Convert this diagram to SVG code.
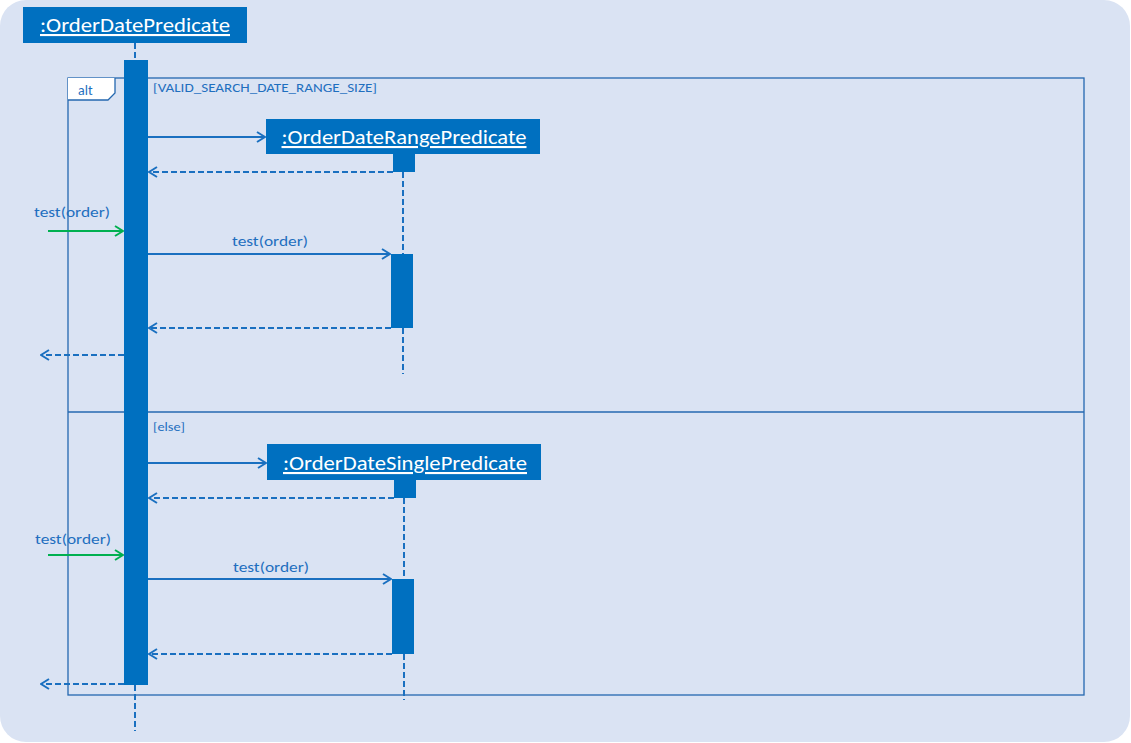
<svg xmlns="http://www.w3.org/2000/svg" width="1131" height="743" viewBox="0 0 1131 743">
<defs>
<style>
.bg{fill:#dae3f3}
.obj{fill:#0070c0}
.objt{fill:#ffffff;font-family:Carlito,"Open Sans","Liberation Sans",sans-serif;font-size:21px;text-decoration:underline}
.lbl{fill:#1f6fbf;font-family:Carlito,"Open Sans","Liberation Sans",sans-serif;font-size:15px}
.grd{fill:#1f6fbf;font-family:Carlito,"Open Sans","Liberation Sans",sans-serif;font-size:13px}
.msg{stroke:#1a70c0;stroke-width:2;fill:none}
.ret{stroke:#1a70c0;stroke-width:2;fill:none;stroke-dasharray:6 3}
.life{stroke:#1a70c0;stroke-width:2;fill:none;stroke-dasharray:6 3}
.ext{stroke:#00b050;stroke-width:2;fill:none}
.frame{stroke:#2468b0;stroke-width:1.3;fill:none}
</style>
<marker id="ah" viewBox="0 0 10 12" refX="9" refY="6" markerWidth="10" markerHeight="12" markerUnits="userSpaceOnUse" orient="auto">
<path d="M1,1 L9,6 L1,11" fill="none" stroke="#1a70c0" stroke-width="2"/>
</marker>
<marker id="ahg" viewBox="0 0 10 12" refX="9" refY="6" markerWidth="10" markerHeight="12" markerUnits="userSpaceOnUse" orient="auto">
<path d="M1,1 L9,6 L1,11" fill="none" stroke="#00b050" stroke-width="2"/>
</marker>
</defs>
<rect x="0" y="0" width="1131" height="743" fill="#ffffff"/>
<rect class="bg" x="0" y="0" width="1130" height="742" rx="26" ry="26"/>

<g id="frame-alt">
<rect class="frame" x="68" y="78" width="1016" height="617"/>
<path d="M68,78 L115,78 L115,93 L108,100 L68,100 Z" fill="#ffffff" stroke="none"/>
<path class="frame" d="M68,100 L108,100 L115,93 L115,78"/>
<text class="grd" x="78" y="95" style="font-size:14px">alt</text>
<line class="frame" x1="68" y1="412" x2="1084" y2="412"/>
<text class="grd" x="153" y="92" textLength="224" lengthAdjust="spacingAndGlyphs">[VALID_SEARCH_DATE_RANGE_SIZE]</text>
<text class="grd" x="153" y="431" textLength="32" lengthAdjust="spacingAndGlyphs">[else]</text>
</g>

<g id="lifelines">
<line class="life" x1="135" y1="43" x2="135" y2="60"/>
<line class="life" x1="135" y1="685" x2="135" y2="731"/>
<line class="life" x1="403" y1="172" x2="403" y2="254"/>
<line class="life" x1="403" y1="328" x2="403" y2="374"/>
<line class="life" x1="404" y1="498" x2="404" y2="579"/>
<line class="life" x1="404" y1="654" x2="404" y2="700"/>
</g>

<g id="node-orderDatePredicate">
<rect class="obj" x="23" y="7" width="224" height="36"/>
<text class="objt" x="135" y="32" text-anchor="middle" textLength="190" lengthAdjust="spacingAndGlyphs">:OrderDatePredicate</text>
<rect class="obj" x="124" y="60" width="24" height="625"/>
</g>

<g id="node-orderDateRangePredicate">
<rect class="obj" x="266" y="119" width="274" height="35"/>
<text class="objt" x="404" y="144" text-anchor="middle" textLength="245" lengthAdjust="spacingAndGlyphs">:OrderDateRangePredicate</text>
<rect class="obj" x="393" y="154" width="22" height="18"/>
<rect class="obj" x="391" y="254" width="22" height="74"/>
</g>

<g id="node-orderDateSinglePredicate">
<rect class="obj" x="267" y="444" width="274" height="36"/>
<text class="objt" x="405" y="470" text-anchor="middle" textLength="244" lengthAdjust="spacingAndGlyphs">:OrderDateSinglePredicate</text>
<rect class="obj" x="394" y="480" width="22" height="18"/>
<rect class="obj" x="392" y="579" width="22" height="75"/>
</g>

<g id="connectors">
<line class="msg" x1="148" y1="137" x2="265" y2="137" marker-end="url(#ah)"/>
<line class="ret" x1="393" y1="172" x2="149" y2="172" marker-end="url(#ah)"/>
<line class="ext" x1="48" y1="231" x2="123" y2="231" marker-end="url(#ahg)"/>
<line class="msg" x1="148" y1="254" x2="390" y2="254" marker-end="url(#ah)"/>
<line class="ret" x1="391" y1="328" x2="149" y2="328" marker-end="url(#ah)"/>
<line class="ret" x1="124" y1="355" x2="41" y2="355" marker-end="url(#ah)"/>

<line class="msg" x1="148" y1="463" x2="266" y2="463" marker-end="url(#ah)"/>
<line class="ret" x1="394" y1="498" x2="149" y2="498" marker-end="url(#ah)"/>
<line class="ext" x1="48" y1="555" x2="123" y2="555" marker-end="url(#ahg)"/>
<line class="msg" x1="148" y1="579" x2="391" y2="579" marker-end="url(#ah)"/>
<line class="ret" x1="392" y1="654" x2="149" y2="654" marker-end="url(#ah)"/>
<line class="ret" x1="124" y1="684" x2="41" y2="684" marker-end="url(#ah)"/>

<text class="lbl" x="34" y="217" textLength="76" lengthAdjust="spacingAndGlyphs">test(order)</text>
<text class="lbl" x="232" y="246" textLength="76" lengthAdjust="spacingAndGlyphs">test(order)</text>
<text class="lbl" x="35" y="544" textLength="76" lengthAdjust="spacingAndGlyphs">test(order)</text>
<text class="lbl" x="233" y="572" textLength="76" lengthAdjust="spacingAndGlyphs">test(order)</text>
</g>
</svg>
